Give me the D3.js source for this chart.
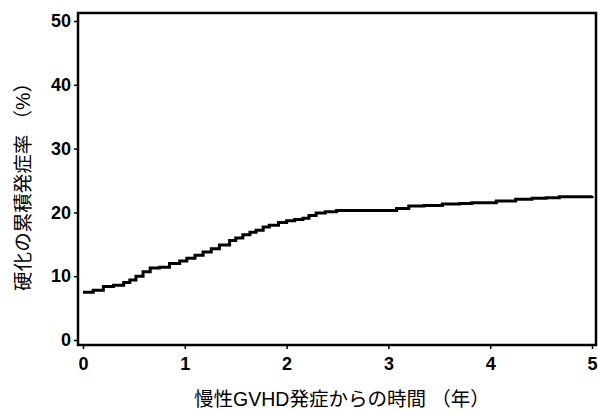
<!DOCTYPE html>
<html>
<head>
<meta charset="utf-8">
<script src="https://cdn.jsdelivr.net/npm/d3@7"></script>
<style>
  body { margin: 0; background: #fff; }
  svg { display: block; }
</style>
</head>
<body>
<div id="chart"></div>
<script>
// cumulative incidence of sclerosis (%) vs years since chronic GVHD onset
var years = [0, 0.1, 0.2, 0.3, 0.4, 0.46, 0.52, 0.59, 0.66, 0.75, 0.85, 0.95, 1.02, 1.1, 1.18, 1.26, 1.34, 1.44, 1.5, 1.57, 1.64, 1.70, 1.77, 1.83, 1.92, 2.0, 2.08, 2.16, 2.22, 2.29, 2.38, 2.49, 2.8, 3.08, 3.2, 3.35, 3.53, 3.7, 3.82, 4.06, 4.25, 4.41, 4.55, 4.68, 5.0];
var incidence = [7.5, 7.8, 8.4, 8.6, 9.0, 9.4, 10.0, 10.7, 11.3, 11.4, 12.0, 12.4, 12.8, 13.3, 13.8, 14.3, 14.9, 15.6, 16.0, 16.5, 16.9, 17.2, 17.7, 18.0, 18.4, 18.7, 18.9, 19.1, 19.5, 19.9, 20.1, 20.3, 20.3, 20.6, 21.0, 21.1, 21.3, 21.4, 21.5, 21.8, 22.05, 22.2, 22.3, 22.45, 22.6];
var xTicks = [0, 1, 2, 3, 4, 5];
var yTicks = [0, 10, 20, 30, 40, 50];
var xTitle = "慢性GVHD発症からの時間 （年）";
var yTitle = "硬化の累積発症率 （%）";

var width = 598, height = 414;
var frame = {left: 78, right: 596, top: 13, bottom: 345};

var svg = d3.select("#chart")
  .append("svg")
    .attr("width", width)
    .attr("height", height);

var x = d3.scaleLinear()
  .domain([0, 5])
  .range([83, 592]);

var y = d3.scaleLinear()
  .domain([0, 50])
  .range([340, 21]);

// frame
svg.append("rect")
  .attr("x", frame.left)
  .attr("y", frame.top)
  .attr("width", frame.right - frame.left)
  .attr("height", frame.bottom - frame.top)
  .style("fill", "none")
  .style("stroke", "#000")
  .style("stroke-width", 2.5);

// x axis
var xAxis = svg.append("g")
  .attr("transform", "translate(0," + frame.bottom + ")")
  .call(d3.axisBottom(x).tickValues(xTicks).tickSize(4).tickPadding(8).tickFormat(d3.format("d")));
xAxis.select(".domain").remove();

// y axis
var yAxis = svg.append("g")
  .attr("transform", "translate(" + frame.left + ",0)")
  .call(d3.axisLeft(y).tickValues(yTicks).tickSize(4).tickPadding(3).tickFormat(d3.format("d")));
yAxis.select(".domain").remove();

svg.selectAll(".tick line").style("stroke", "#000").style("stroke-width", 1.5);
svg.selectAll(".tick text")
  .style("font-family", "'Liberation Sans', Arial, sans-serif")
  .style("font-weight", "bold")
  .style("font-size", "18px")
  .style("fill", "#000");

// curve
var line = d3.line()
  .x(function(d, i) { return x(years[i]); })
  .y(function(d) { return y(d); })
  .curve(d3.curveStepAfter);

svg.append("path")
  .datum(incidence)
  .attr("d", line)
  .style("fill", "none")
  .style("stroke", "#000")
  .style("stroke-width", 3);

// titles
svg.append("text")
  .attr("x", 342)
  .attr("y", 406)
  .attr("text-anchor", "middle")
  .style("font-family", "'Liberation Sans', 'Noto Sans CJK JP', sans-serif")
  .style("font-size", "19.5px")
  .text(xTitle);

svg.append("text")
  .attr("transform", "translate(30,182) rotate(-90)")
  .attr("text-anchor", "middle")
  .style("font-family", "'Liberation Sans', 'Noto Sans CJK JP', sans-serif")
  .style("font-size", "19.5px")
  .text(yTitle);
</script>
</body>
</html>
